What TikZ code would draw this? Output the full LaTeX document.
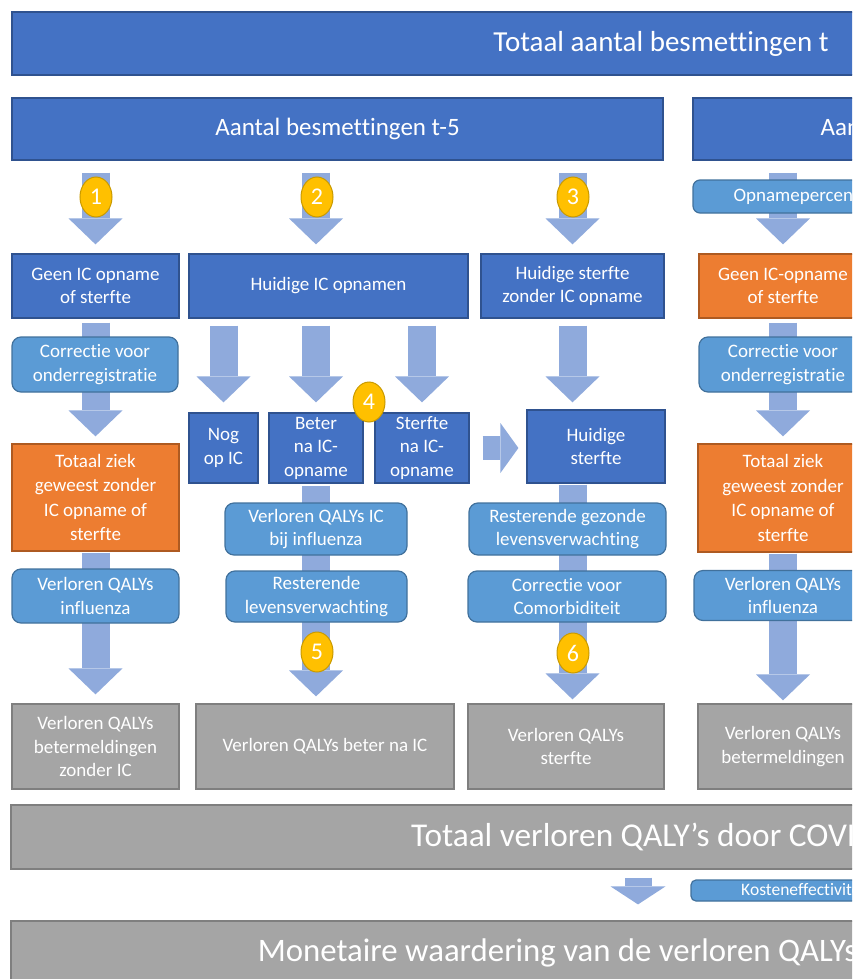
\documentclass[tikz,border=0pt]{standalone}
\usepackage{fontspec}
\setmainfont{Carlito}[Ligatures=NoCommon]
\usetikzlibrary{arrows.meta,shapes.geometric,backgrounds}
\definecolor{midblue}{HTML}{4472C4}
\definecolor{darkblue}{HTML}{2F528F}
\definecolor{midorange}{HTML}{ED7D31}
\definecolor{darkorange}{HTML}{AE5A21}
\definecolor{stepblue}{HTML}{5B9BD5}
\definecolor{stepline}{HTML}{41719C}
\definecolor{midgray}{HTML}{A5A5A5}
\definecolor{grayline}{HTML}{7F7F7F}
\definecolor{arrowblue}{HTML}{8FAADC}
\definecolor{numyellow}{HTML}{FFC000}
\definecolor{numline}{HTML}{C99A00}
\begin{document}
\begin{tikzpicture}[x=1pt, y=-1pt,
main node/.style={draw=darkblue, fill=midblue, text=white, line width=1.2pt, inner sep=0pt, align=center, font=\fontsize{19}{23.5}\selectfont},
orange node/.style={main node, draw=darkorange, fill=midorange},
step node/.style={main node, draw=stepline, fill=stepblue, rounded corners=9pt},
result node/.style={main node, draw=grayline, fill=midgray},
num node/.style={ellipse, draw=numline, fill=numyellow, text=white, line width=1pt, inner sep=0pt, minimum width=32pt, minimum height=40pt, font=\fontsize{24}{24}\selectfont},
dims/.style 2 args={minimum width=#1pt, minimum height=#2pt},
flow/.style={draw=arrowblue, line width=28pt, -{Triangle[width=54pt,length=26pt,line width=0pt]}}]
\useasboundingbox (0,0) rectangle (852,979);
\clip (0,0) rectangle (852,979);
\begin{scope}
\node[main node, dims={1298}{63}, font=\fontsize{29}{35}\selectfont] (total) at (661,43.5) {Totaal aantal besmettingen t};
\node[main node, dims={651}{62}, font=\fontsize{25}{30}\selectfont] (aantal5) at (337.5,129) {Aantal besmettingen t-5};
\node[main node, dims={480}{62}, font=\fontsize{25}{30}\selectfont] (aantal4) at (933,129) {Aantal besmettingen t};
\node[step node, dims={234}{33}, rounded corners=7pt, font=\fontsize{19}{22}\selectfont] (opname) at (810,196.5) {Opnamepercentage};
\node[main node, dims={167}{64}] (geen) at (95.5,286) {Geen IC opname\\of sterfte};
\node[main node, dims={279}{64}] (hic) at (328.5,286) {Huidige IC opnamen};
\node[main node, dims={183}{64}] (hsz) at (572.5,286) {Huidige sterfte\\zonder IC opname};
\node[orange node, dims={168}{64}] (geen4) at (783,286) {Geen IC-opname\\of sterfte};
\node[step node, dims={166}{55}] (corr) at (95,364.5) {Correctie voor\\onderregistratie};
\node[step node, dims={168}{55}] (corr4) at (783,364.5) {Correctie voor\\onderregistratie};
\node[main node, dims={69}{70}] (nog) at (223.5,448) {Nog\\op IC};
\node[main node, dims={94}{70}] (beter) at (316,448) {Beter\\na IC-\\opname};
\node[main node, dims={94}{70}] (sterfte) at (422,448) {Sterfte\\na IC-\\opname};
\node[main node, dims={138}{73}] (hs) at (596,446.5) {Huidige\\sterfte};
\node[orange node, dims={167}{107}, font=\fontsize{19}{24.5}\selectfont] (ziek) at (95.5,497.5) {Totaal ziek\\geweest zonder\\IC opname of\\sterfte};
\node[orange node, dims={170}{108}, font=\fontsize{19}{24.5}\selectfont] (ziek4) at (783,498) {Totaal ziek\\geweest zonder\\IC opname of\\sterfte};
\node[step node, dims={182}{52}] (vqic) at (316,529) {Verloren QALYs IC\\bij influenza};
\node[step node, dims={197}{52}] (rgez) at (567.5,529) {Resterende gezonde\\levensverwachting};
\node[step node, dims={167}{54}] (vqi) at (95.5,596) {Verloren QALYs\\influenza};
\node[step node, dims={181}{51}] (rest) at (316.5,596.5) {Resterende\\levensverwachting};
\node[step node, dims={198}{51}] (comorb) at (567,596.5) {Correctie voor\\Comorbiditeit};
\node[step node, dims={178}{50}] (vqi4) at (783,595.5) {Verloren QALYs\\influenza};
\node[result node, dims={167}{85}] (g1) at (95.5,746.5) {Verloren QALYs\\betermeldingen\\zonder IC};
\node[result node, dims={258}{85}] (g2) at (325,746.5) {Verloren QALYs beter na IC};
\node[result node, dims={196}{85}] (g3) at (566,746.5) {Verloren QALYs\\sterfte};
\node[result node, dims={170}{85}] (g4) at (783,746.5) {Verloren QALYs\\betermeldingen};
\node[result node, dims={1309}{64}, font=\fontsize{33.3}{40}\selectfont] (totq) at (665.5,837) {Totaal verloren QALY’s door COVID-19};
\node[step node, dims={296}{21}, rounded corners=5pt, font=\fontsize{17.5}{20}\selectfont] (kost) at (839,890.5) {Kosteneffectiviteitsdrempel};
\node[result node, dims={1093}{64}, font=\fontsize{32.8}{39}\selectfont] (mon) at (557.5,953) {Monetaire waardering van de verloren QALYs};
\coordinate (kd) at (638,0);
\end{scope}
\begin{scope}
\node[num node] (n1) at (96,197) {1};
\node[num node] (n2) at (317,197) {2};
\node[num node] (n3) at (573,197) {3};
\node[num node] (n4) at (369,402) {4};
\node[num node] (n5) at (317,652) {5};
\node[num node] (n6) at (573,653) {6};
\end{scope}
\begin{scope}[on background layer]
\draw[flow, shorten <=12pt, shorten >=9pt] (geen.north |- aantal5.south) -- (geen.north);
\draw[flow, shorten <=12pt, shorten >=9pt] (beter.north |- aantal5.south) -- (beter.north |- hic.north);
\draw[flow, shorten <=12pt, shorten >=9pt] (hsz.north |- aantal5.south) -- (hsz.north);
\draw[flow, shorten <=12pt, shorten >=9pt] (geen4.north |- aantal4.south) -- (geen4.north);
\draw[flow, shorten <=4pt, shorten >=7pt] (geen.south) -- (ziek.north);
\draw[flow, shorten <=1pt, shorten >=9pt] (ziek.south) -- (g1.north);
\draw[flow, shorten <=7pt, shorten >=10pt] (hic.south -| nog.north) -- (nog.north);
\draw[flow, shorten <=7pt, shorten >=10pt] (hic.south -| beter.north) -- (beter.north);
\draw[flow, shorten <=7pt, shorten >=10pt] (hic.south -| sterfte.north) -- (sterfte.north);
\draw[flow, shorten <=7pt, shorten >=7pt] (hsz.south) -- (hsz.south |- hs.north);
\draw[flow, line width=24pt, -{Triangle[width=50pt,length=18pt,line width=0pt]}, shorten <=13pt, shorten >=8pt] (sterfte.east) -- (sterfte.east -| hs.west);
\draw[flow, shorten <=2pt, shorten >=7pt] (beter.south) -- (beter.south |- g2.north);
\draw[flow, shorten <=1pt, shorten >=4pt] (hs.south -| hsz.south) -- (hsz.south |- g3.north);
\draw[flow, shorten <=4pt, shorten >=7pt] (geen4.south) -- (ziek4.north);
\draw[flow, shorten <=1pt, shorten >=3pt] (ziek4.south) -- (g4.north);
\draw[flow, line width=27pt, -{Triangle[width=55pt,length=18pt,line width=0pt]}, shorten <=8pt, shorten >=16pt] (totq.south -| kd) -- (mon.north -| kd);
\end{scope}
\end{tikzpicture}
\end{document}
